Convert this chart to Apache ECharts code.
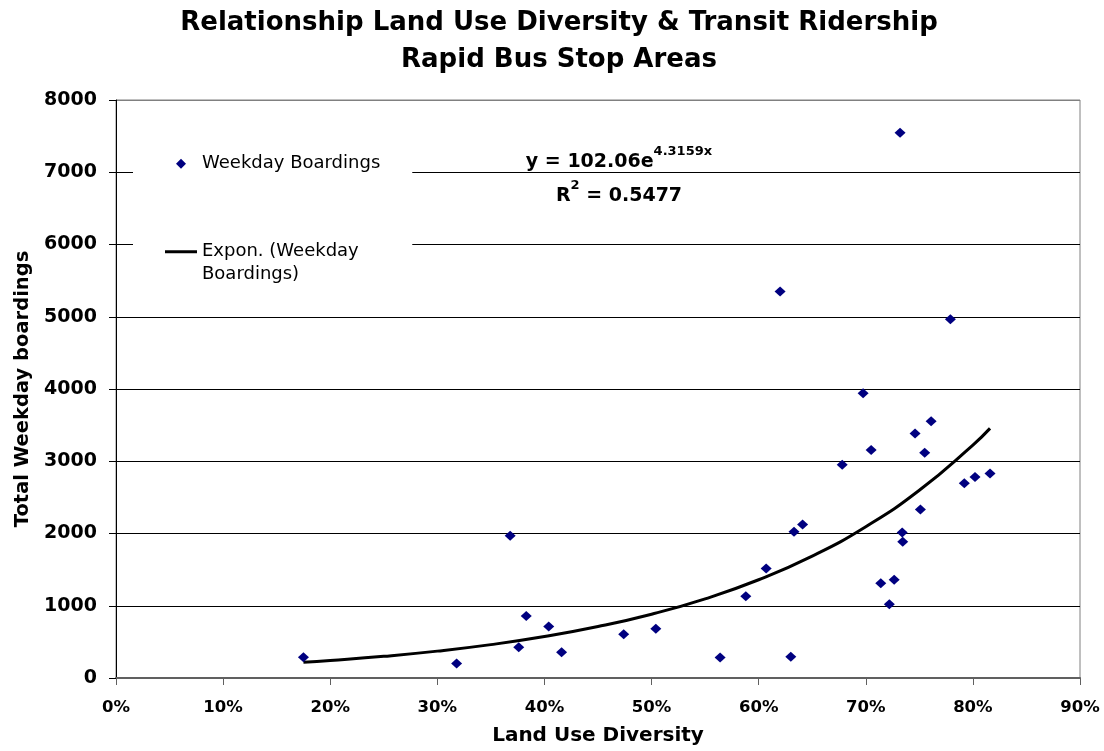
<!DOCTYPE html>
<html>
<head>
<meta charset="utf-8">
<script src="https://cdn.jsdelivr.net/npm/echarts@6/dist/echarts.min.js"></script>
<style>
  html, body { margin: 0; padding: 0; background: #ffffff; }
  #chart { width: 1104px; height: 751px; }
</style>
</head>
<body>
<div id="chart"></div>
<script>
// ---- Data ----
const titleLines = ['Relationship Land Use Diversity & Transit Ridership', 'Rapid Bus Stop Areas'];
const xAxisName = 'Land Use Diversity';
const yAxisName = 'Total Weekday boardings';
const scatterName = 'Weekday Boardings';
const trendName = 'Expon. (Weekday Boardings)';

// Land use diversity (%) for each rapid bus stop area
const diversity = [17.5, 31.8, 36.8, 37.6, 38.3, 40.4, 41.6, 47.4, 50.4, 56.4, 58.8, 60.7, 62.0, 63.0, 63.3, 64.1,
  67.8, 69.75, 70.5, 71.4, 72.2, 72.65, 73.2, 73.4, 73.45, 74.6, 75.1, 75.5, 76.1, 77.9, 79.2, 80.2, 81.6];
// Total weekday boardings
const boardings = [287, 199, 1970, 426, 857, 713, 356, 606, 681, 285, 1131, 1517, 5350, 294, 2023, 2124,
  2952, 3940, 3154, 1310, 1021, 1361, 7545, 2014, 1885, 3384, 2331, 3117, 3554, 4966, 2694, 2782, 2832];

// Exponential trendline, values
const trendX = [17.5, 20, 25, 30, 35, 40, 45, 50, 55, 60, 65, 70, 75, 80, 81.6];
const trendY = [217, 242, 300, 372, 462, 574, 712, 883, 1096, 1360, 1687, 2094, 2598, 3224, 3455];

const eqLine1 = 'y = 102.06e';
const eqExp = '4.3159x';
const r2Label = 'R';
const r2Sup = '2';
const r2Value = ' = 0.5477';

// Axis ticks
const xMin = 0, xMax = 90, xStep = 10;
const yMin = 0, yMax = 8000, yStep = 1000;

// ---- Chart ----
const FONT = 'DejaVu Sans';
const chart = echarts.init(document.getElementById('chart'), null, { renderer: 'canvas' });

const scatterData = diversity.map((x, i) => [x, boardings[i]]);
const trendData = trendX.map((x, i) => [x, trendY[i]]);

// legend icons drawn in a 32x10 box (degenerate corner points keep the box size)
const diamondIcon = 'path://M0,0L0,0M32,10L32,10M16,0L21,5L16,10L11,5Z';
const lineIcon = 'path://M0,0L0,0M32,10L32,10M0,3.5L32,3.5L32,6.5L0,6.5Z';

const option = {
  animation: false,
  backgroundColor: '#ffffff',
  title: [
    {
      text: titleLines.join('\n'),
      left: 559,
      top: 5,
      textAlign: 'center',
      padding: 0,
      textStyle: { fontFamily: FONT, fontWeight: 'bold', fontSize: 26, lineHeight: 37, color: '#000' }
    },
    {
      text: '{big|' + eqLine1 + '}{sup1|' + eqExp + '}\n{big|' + r2Label + '}{sup2|' + r2Sup + '}{big|' + r2Value + '}',
      left: 619,
      top: 145,
      textAlign: 'center',
      padding: 0,
      textStyle: {
        rich: {
          big: { fontFamily: FONT, fontWeight: 'bold', fontSize: 19, lineHeight: 34, color: '#000' },
          sup1: { fontFamily: FONT, fontWeight: 'bold', fontSize: 13, lineHeight: 13, verticalAlign: 'top', color: '#000' },
          sup2: { fontFamily: FONT, fontWeight: 'bold', fontSize: 13, lineHeight: 24, verticalAlign: 'top', color: '#000' }
        }
      }
    }
  ],
  legend: {
    orient: 'vertical',
    left: 133,
    top: 130,
    padding: [22.5, 32, 15, 32],
    backgroundColor: '#ffffff',
    itemWidth: 32,
    itemHeight: 10,
    itemGap: 43,
    formatter: function (name) {
      return name === trendName ? '\nExpon. (Weekday\nBoardings)' : name;
    },
    textStyle: { fontFamily: FONT, fontSize: 18, lineHeight: 22.5, color: '#000' },
    data: [
      { name: scatterName, icon: diamondIcon, itemStyle: { color: '#000080' } },
      { name: trendName, icon: lineIcon, itemStyle: { color: '#000' } }
    ]
  },
  grid: {
    left: 116, right: 24, top: 100, bottom: 71,
    show: true,
    borderColor: '#808080',
    borderWidth: 1,
    backgroundColor: 'transparent'
  },
  xAxis: {
    type: 'value',
    min: xMin, max: xMax, interval: xStep,
    name: xAxisName,
    nameLocation: 'middle',
    nameGap: 48,
    nameTextStyle: { fontFamily: FONT, fontWeight: 'bold', fontSize: 20, color: '#000' },
    axisLine: { show: true, onZero: false, lineStyle: { color: '#606060', width: 2 } },
    axisTick: { show: true, inside: false, length: 7, lineStyle: { color: '#606060', width: 1 } },
    splitLine: { show: false },
    axisLabel: {
      margin: 21,
      fontFamily: FONT, fontWeight: 'bold', fontSize: 16.5, color: '#000',
      formatter: function (v) { return Math.round(v) + '%'; }
    }
  },
  yAxis: {
    type: 'value',
    min: yMin, max: yMax, interval: yStep,
    name: yAxisName,
    nameLocation: 'middle',
    nameGap: 77,
    nameTextStyle: { fontFamily: FONT, fontWeight: 'bold', fontSize: 19.5, color: '#000' },
    axisLine: { show: true, onZero: false, lineStyle: { color: '#000', width: 1 } },
    axisTick: { show: true, inside: false, length: 7, lineStyle: { color: '#000', width: 1 } },
    splitLine: {
      show: true,
      lineStyle: { color: ['#000', '#000', '#000', '#000', '#000', '#000', '#000', '#000', '#808080'], width: 1 }
    },
    axisLabel: {
      margin: 19, fontFamily: FONT, fontWeight: 'bold', fontSize: 19, color: '#000',
      formatter: function (v) { return String(v); }
    }
  },
  series: [
    {
      name: scatterName,
      type: 'scatter',
      data: scatterData,
      symbol: 'diamond',
      symbolSize: [11, 10],
      itemStyle: { color: '#000080', opacity: 1 },
      z: 3
    },
    {
      name: trendName,
      type: 'line',
      data: trendData,
      smooth: true,
      symbol: 'none',
      showSymbol: false,
      lineStyle: { color: '#000', width: 3 },
      itemStyle: { color: '#000' },
      z: 2
    }
  ]
};

chart.setOption(option);
</script>
</body>
</html>
